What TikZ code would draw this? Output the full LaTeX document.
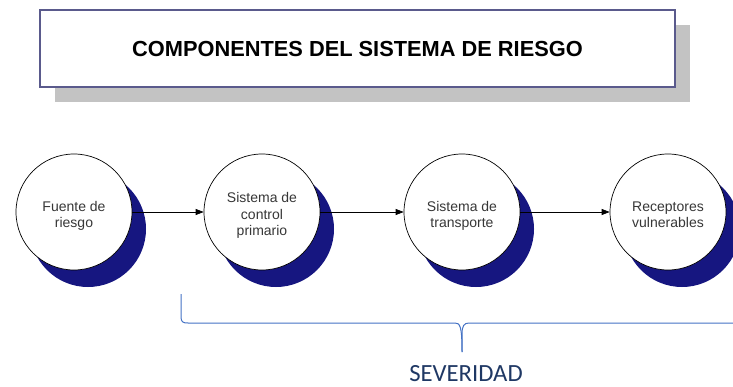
\documentclass[tikz,border=0pt]{standalone}
\usepackage{fontspec}
\setmainfont{Liberation Sans}
\newfontfamily\carlito{Carlito}
\usetikzlibrary{shadows,arrows.meta}
\definecolor{navyshadow}{RGB}{22,22,128}
\definecolor{boxborder}{RGB}{90,90,140}
\definecolor{boxshadow}{RGB}{195,195,195}
\definecolor{bracecol}{RGB}{68,114,196}
\definecolor{sevcol}{RGB}{31,56,100}
\definecolor{txtcol}{RGB}{55,55,55}
\newcommand{\circtext}[1]{\raisebox{-4pt}[\height][\depth]{\begin{tabular}{@{}c@{}}#1\end{tabular}}}
\tikzset{
  titlebox/.style={draw=boxborder, line width=1.2pt, fill=white, minimum width=635pt, minimum height=77pt, inner sep=0pt,
    drop shadow={shadow xshift=15pt, shadow yshift=-15pt, fill=boxshadow, opacity=1}},
  comp/.style={circle, draw=black, line width=0.7pt, fill=white, minimum size=116pt, inner sep=0pt,
    text=txtcol, font=\fontsize{14}{16.5}\selectfont,
    drop shadow={shadow xshift=14pt, shadow yshift=-17pt, fill=navyshadow, opacity=1}},
  flow/.style={-{Triangle[length=8pt,width=6pt]}, line width=0.7pt, black},
  bracepath/.style={draw=bracecol, line width=1pt}
}
\begin{document}
\begin{tikzpicture}[x=1pt,y=-1pt]
\useasboundingbox (0,0) rectangle (733,387);
\node[titlebox] (title) at (357.5,48.5) {\fontsize{21.8}{24}\selectfont\bfseries COMPONENTES DEL SISTEMA DE RIESGO};
\node[comp] (c1) at (74,212) {\circtext{Fuente de\\riesgo}};
\node[comp] (c2) at (262,212) {\circtext{Sistema de\\control\\primario}};
\node[comp] (c3) at (462,212) {\circtext{Sistema de\\transporte}};
\node[comp] (c4) at (668,212) {\circtext{Receptores\\vulnerables}};
\draw[flow] (c1) -- (c2);
\draw[flow] (c2) -- (c3);
\draw[flow] (c3) -- (c4);
\coordinate (bl) at (181,294);
\coordinate (bm) at (462,352);
\coordinate (br) at (740,323);
\draw[bracepath] (bl) -- (181,317) .. controls (181,322) and (183,323) .. (188,323) -- (455,323) .. controls (460,323) and (462,326) .. (bm);
\draw[bracepath] (bm) -- (462,334) .. controls (462,326) and (464,323) .. (469,323) -- (br);
\node[anchor=base, text=sevcol, font=\carlito\fontsize{24.7}{28}\selectfont, inner sep=0pt] (sev) at (466,381) {SEVERIDAD};
\end{tikzpicture}
\end{document}
